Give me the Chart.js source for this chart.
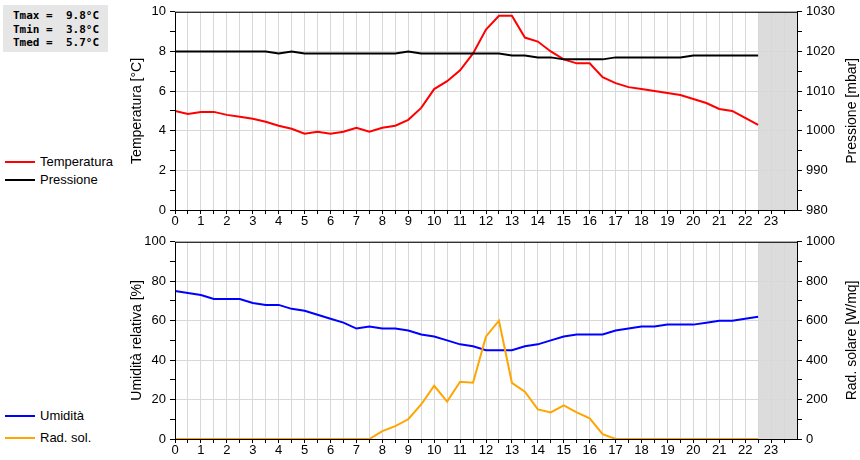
<!DOCTYPE html>
<html><head><meta charset="utf-8">
<script src="https://cdn.jsdelivr.net/npm/chart.js@4/dist/chart.umd.min.js"></script>
<style>
body{margin:0;background:#fff;width:860px;height:460px;position:relative;overflow:hidden;font-family:"Liberation Sans",Arial,sans-serif}
canvas{position:absolute;left:0}
#info{position:absolute;left:3px;top:5px;width:105px;height:47px;background:#e6e6e6;font:bold 11px "DejaVu Sans Mono",monospace;line-height:13.5px;padding:4px 0 0 10px;box-sizing:border-box;white-space:pre}
.lg{position:absolute;left:5px;font-size:13px;display:flex;align-items:center}
.lg span{display:inline-block;width:30px;height:2px;margin-right:5px}
</style></head><body>
<div id="info">Tmax =  9.8°C
Tmin =  3.8°C
Tmed =  5.7°C</div>
<div class="lg" style="top:154px"><span style="background:#f00"></span>Temperatura</div>
<div class="lg" style="top:172px"><span style="background:#000"></span>Pressione</div>
<div class="lg" style="top:408px"><span style="background:#00f"></span>Umidità</div>
<div class="lg" style="top:430px"><span style="background:#ffa500"></span>Rad. sol.</div>
<canvas id="c1" style="top:0" width="860" height="228"></canvas>
<canvas id="c2" style="top:230px" width="860" height="230"></canvas>
<script>
const hours=[0,0.5,1,1.5,2,2.5,3,3.5,4,4.5,5,5.5,6,6.5,7,7.5,8,8.5,9,9.5,10,10.5,11,11.5,12,12.5,13,13.5,14,14.5,15,15.5,16,16.5,17,17.5,18,18.5,19,19.5,20,20.5,21,21.5,22,22.5];
const temperatura=[5.0,4.85,4.95,4.95,4.8,4.7,4.6,4.45,4.25,4.1,3.85,3.95,3.85,3.95,4.15,3.95,4.15,4.25,4.55,5.15,6.1,6.5,7.05,7.9,9.1,9.8,9.8,8.7,8.5,8.0,7.6,7.4,7.4,6.7,6.4,6.2,6.1,6.0,5.9,5.8,5.6,5.4,5.1,5.0,4.65,4.3];
const pressione=[1020,1020,1020,1020,1020,1020,1020,1020,1019.5,1020,1019.5,1019.5,1019.5,1019.5,1019.5,1019.5,1019.5,1019.5,1020,1019.5,1019.5,1019.5,1019.5,1019.5,1019.5,1019.5,1019,1019,1018.5,1018.5,1018,1018,1018,1018,1018.5,1018.5,1018.5,1018.5,1018.5,1018.5,1019,1019,1019,1019,1019,1019];
const umidita=[75,74,73,71,71,71,69,68,68,66,65,63,61,59,56,57,56,56,55,53,52,50,48,47,45,45,45,47,48,50,52,53,53,53,55,56,57,57,58,58,58,59,60,60,61,62];
const radSol=[0,0,0,0,0,0,0,0,0,0,0,0,0,0,0,0,40,65,100,175,270,190,290,285,520,600,285,240,150,135,170,135,105,25,0,0,0,0,0,0,0,0,0,0,0,0];
const xTickLabels=[0,1,2,3,4,5,6,7,8,9,10,11,12,13,14,15,16,17,18,19,20,21,22,23];
const toXY=(v)=>v.map((y,i)=>({x:hours[i],y}));
const F={family:"Liberation Sans",size:13};
function makeShade(rightTitle){return{id:'shade',beforeDraw(c){const x=c.scales.x,a=c.chartArea,ctx=c.ctx;const x0=x.getPixelForValue(22.5);ctx.save();ctx.fillStyle='#dcdcdc';ctx.fillRect(x0,a.top,a.right-x0,a.bottom-a.top);ctx.restore();},
 afterDraw(c){const a=c.chartArea,ctx=c.ctx;ctx.save();ctx.strokeStyle='#000';ctx.lineWidth=1;ctx.strokeRect(a.left+0.5,a.top+0.5,a.right-a.left,a.bottom-a.top);
 ctx.translate(852,(a.top+a.bottom)/2);ctx.rotate(-Math.PI/2);ctx.fillStyle='#000';ctx.font='14px "Liberation Sans"';ctx.textAlign='center';ctx.textBaseline='middle';ctx.fillText(rightTitle,0,0);ctx.restore();}};}
function xAxis(h){return{type:'linear',min:0,max:24,afterBuildTicks(s){s.ticks=[];for(let i=0;i<48;i++)s.ticks.push({value:i/2});},
 ticks:{font:F,color:'#000',padding:0,autoSkip:false,maxRotation:0,callback:v=>Number.isInteger(v)&&xTickLabels.includes(v)?String(v):''},
 grid:{color:'#d8d8d8',tickColor:'#000',tickLength:4,drawTicks:true},border:{display:false},afterFit(s){s.height=h;}};}
function yAxis(pos,min,max,step,major,title,w){return{position:pos,min,max,afterBuildTicks(s){s.ticks=[];for(let v=min;v<=max+1e-9;v+=step)s.ticks.push({value:v});},
 ticks:{font:F,color:'#000',padding:4,callback:v=>Math.abs(v/major-Math.round(v/major))<1e-6?String(v):''},
 grid:{drawOnChartArea:pos==='left',color:c=>Math.abs(c.tick.value/major-Math.round(c.tick.value/major))<1e-6?'#d8d8d8':'rgba(0,0,0,0)',tickColor:'#000',tickLength:5},
 border:{display:false},title:{display:pos==='left',text:title,font:{family:"Liberation Sans",size:14},color:'#000',padding:2},afterFit(s){s.width=w;}};}
const common={responsive:false,animation:false,maintainAspectRatio:false,plugins:{legend:{display:false},tooltip:{enabled:false}},elements:{point:{radius:0},line:{tension:0,borderWidth:2}}};
new Chart(document.getElementById('c1'),{type:'line',data:{datasets:[
 {data:toXY(pressione),borderColor:'#000',yAxisID:'y2'},
 {data:toXY(temperatura),borderColor:'#f00',yAxisID:'y'}]},
 options:{...common,layout:{padding:{top:10,left:127,right:0,bottom:0}},scales:{x:xAxis(18),
 y:yAxis('left',0,10,1,2,'Temperatura [°C]',48),y2:yAxis('right',980,1030,5,10,'Pressione [mbar]',63)}},plugins:[makeShade('Pressione [mbar]')]});
new Chart(document.getElementById('c2'),{type:'line',data:{datasets:[
 {data:toXY(radSol),borderColor:'#ffa500',yAxisID:'y2'},
 {data:toXY(umidita),borderColor:'#00f',yAxisID:'y'}]},
 options:{...common,layout:{padding:{top:10,left:127,right:0,bottom:0}},scales:{x:xAxis(21),
 y:yAxis('left',0,100,10,20,'Umidità relativa [%]',48),y2:yAxis('right',0,1000,100,200,'Rad. solare [W/mq]',63)}},plugins:[makeShade('Rad. solare [W/mq]')]});
</script></body></html>
